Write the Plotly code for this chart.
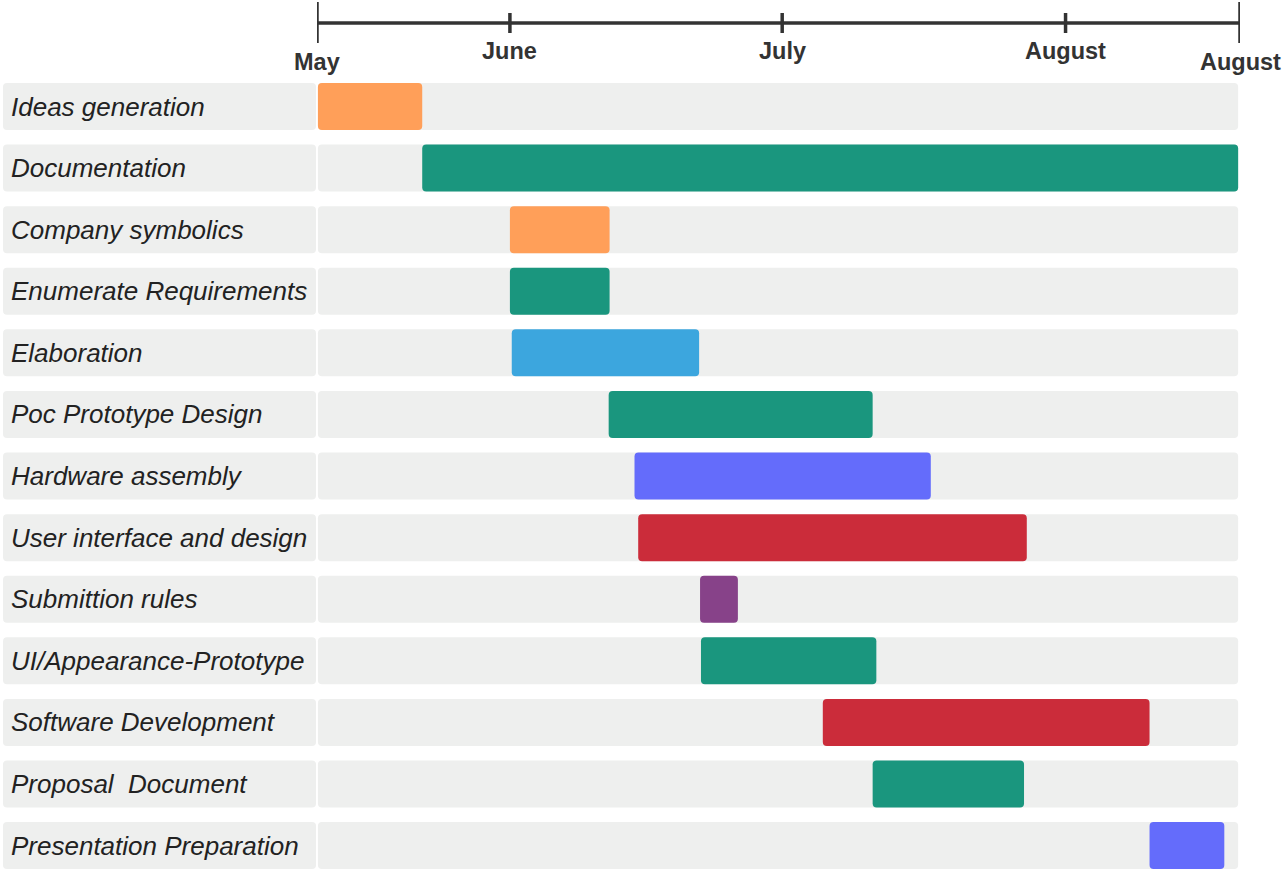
import plotly.graph_objects as go

# ---------------- data ----------------
tasks = [
    "Ideas generation", "Documentation", "Company symbolics", "Enumerate Requirements",
    "Elaboration", "Poc Prototype Design", "Hardware assembly", "User interface and design",
    "Submittion rules", "UI/Appearance-Prototype", "Software Development",
    "Proposal  Document", "Presentation Preparation",
]
# timeline scale 0..100 (May start .. end of August)
starts = [0.1, 11.4, 20.9, 20.9, 21.1, 31.6, 34.4, 34.8, 41.5, 41.6, 54.8, 60.2, 90.2]
ends   = [11.4, 99.8, 31.7, 31.7, 41.4, 60.2, 66.5, 76.9, 45.6, 60.6, 90.2, 76.6, 98.3]
colors = ["#FF9F59", "#1A967E", "#FF9F59", "#1A967E", "#3CA6DE", "#1A967E", "#646CFB",
          "#CB2C3A", "#874289", "#1A967E", "#CB2C3A", "#1A967E", "#646CFB"]
tick_labels = ["May", "June", "July", "August", "August"]
tick_vals = [0, 20.9, 50.4, 81.1, 100]
major_ticks = [True, False, False, False, True]

# ---------------- figure ----------------
W, H = 1282, 871
ML, MR = 0, 42
PW = W - ML - MR
rows = list(range(len(tasks)))
row_px = 61.59
top_center = 106.5
y_top = -top_center / row_px
y_bot = y_top + H / row_px
bar_w = 47 / row_px

fig = go.Figure()

# label boxes
fig.add_trace(go.Bar(
    y=rows, x=[1] * len(rows), base=[0] * len(rows), orientation="h",
    xaxis="x2", yaxis="y", width=bar_w,
    marker=dict(color="#EEEFEE", cornerradius=4, line=dict(width=0)),
    hoverinfo="skip", showlegend=False,
))
# track backgrounds
fig.add_trace(go.Bar(
    y=rows, x=[99.7] * len(rows), base=[0.1] * len(rows), orientation="h",
    width=bar_w,
    marker=dict(color="#EEEFEE", cornerradius=4, line=dict(width=0)),
    hoverinfo="skip", showlegend=False,
))
# task bars
fig.add_trace(go.Bar(
    y=rows, x=[e - s for s, e in zip(starts, ends)], base=starts, orientation="h",
    width=bar_w,
    marker=dict(color=colors, cornerradius=4, line=dict(width=0)),
    showlegend=False,
))

annotations = []
for r, t in zip(rows, tasks):
    annotations.append(dict(
        x=0.02, y=r, xref="x2", yref="y", text=t, showarrow=False,
        xanchor="left", yanchor="middle",
        font=dict(family="Liberation Sans", size=26, color="#222222", style="italic"),
    ))

def py(px):
    return 1 - px / H

shapes = [dict(type="line", xref="x", yref="paper", x0=0, x1=100,
               y0=py(23), y1=py(23), line=dict(color="#333333", width=3.5))]
for v, lab, major in zip(tick_vals, tick_labels, major_ticks):
    if major:
        y0, y1, ly = py(2), py(43), py(62)
    else:
        y0, y1, ly = py(13), py(33), py(51)
    shapes.append(dict(type="line", xref="x", yref="paper", x0=v, x1=v,
                       y0=y0, y1=y1, line=dict(color="#333333", width=3.5)))
    annotations.append(dict(
        x=v, y=ly, xref="x", yref="paper", text=f"<b>{lab}</b>", showarrow=False,
        xanchor="center", yanchor="middle",
        font=dict(family="Liberation Sans", size=23.5, color="#333333"),
    ))

fig.update_layout(
    width=W, height=H,
    margin=dict(l=ML, r=MR, t=0, b=0, pad=0),
    paper_bgcolor="white", plot_bgcolor="white",
    barmode="overlay",
    xaxis=dict(domain=[317 / PW, 1], range=[0, 100], visible=False, fixedrange=True),
    xaxis2=dict(domain=[3 / PW, 316 / PW], range=[0, 1], visible=False, anchor="y"),
    yaxis=dict(range=[y_bot, y_top], visible=False),
    shapes=shapes, annotations=annotations,
)

fig.write_html("out.html")
